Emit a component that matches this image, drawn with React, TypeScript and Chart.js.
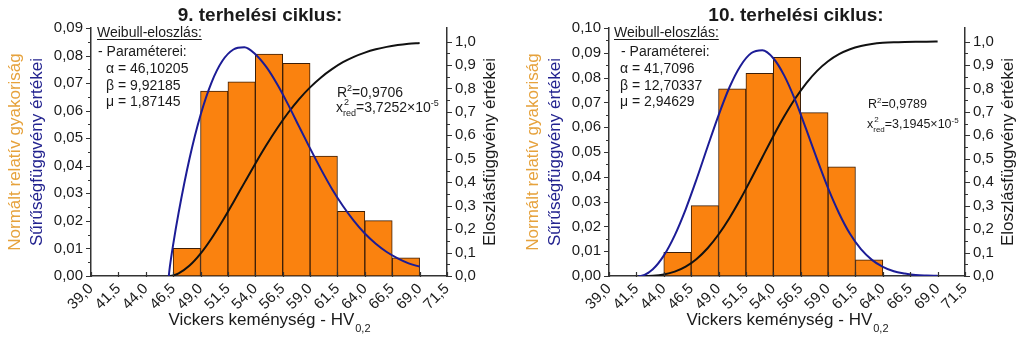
import React, { useEffect, useRef } from 'react';
import { Chart, registerables } from 'chart.js';

Chart.register(...registerables);

const FONT = '"Liberation Sans", Arial, sans-serif';

// ---------- shared axis tick values ----------
const xTickValues = [39.0, 41.5, 44.0, 46.5, 49.0, 51.5, 54.0, 56.5, 59.0, 61.5, 64.0, 66.5, 69.0, 71.5];
const rightTickValues = [0, 0.1, 0.2, 0.3, 0.4, 0.5, 0.6, 0.7, 0.8, 0.9, 1.0];
const leftTicks9 = [0, 0.01, 0.02, 0.03, 0.04, 0.05, 0.06, 0.07, 0.08, 0.09];
const leftTicks10 = [0, 0.01, 0.02, 0.03, 0.04, 0.05, 0.06, 0.07, 0.08, 0.09, 0.1];

// ---------- 9. terhelési ciklus ----------
const binStart9 = [46.5, 49.0, 51.5, 54.0, 56.5, 59.0, 61.5, 64.0, 66.5];
const freq9 = [0.0100, 0.0671, 0.0705, 0.0805, 0.0772, 0.0435, 0.0235, 0.0201, 0.0066];
const curveX9 = [46.1, 46.2, 46.5, 47, 48, 49, 50, 51, 52, 53, 54, 55, 56, 57, 58, 59, 60, 61, 62, 63, 64, 65, 66, 67, 68, 69];
const pdf9 = [0, 0.0034, 0.0114, 0.0230, 0.0427, 0.0584, 0.0702, 0.0781, 0.0822, 0.0830, 0.0805, 0.0759, 0.0696, 0.0622, 0.0542, 0.0463, 0.0387, 0.0316, 0.0254, 0.0200, 0.0154, 0.0117, 0.0087, 0.0064, 0.0046, 0.0034];
const cdf9 = [0, 0.0002, 0.0024, 0.0111, 0.0443, 0.0951, 0.1597, 0.2342, 0.3146, 0.3973, 0.4793, 0.5576, 0.6305, 0.6964, 0.7546, 0.8048, 0.8472, 0.8823, 0.9120, 0.9350, 0.9530, 0.9670, 0.9775, 0.9850, 0.9905, 0.9945];
const params9 = ['α = 46,10205', 'β = 9,92185', 'μ = 1,87145'];
const r2Text9 = '=0,9706';
const chiText9 = '=3,7252×10';

// ---------- 10. terhelési ciklus ----------
const binStart10 = [44.0, 46.5, 49.0, 51.5, 54.0, 56.5, 59.0, 61.5];
const freq10 = [0.0095, 0.0284, 0.0755, 0.0817, 0.0882, 0.0659, 0.0440, 0.0065];
const curveX10 = [41.7, 42, 43, 44, 45, 46, 47, 48, 49, 50, 51, 52, 53, 54, 55, 56, 57, 58, 59, 60, 61, 62, 63, 64, 65, 66, 67, 68, 69];
const pdf10 = [0, 0.0001, 0.0027, 0.0082, 0.0164, 0.0269, 0.0391, 0.0521, 0.0648, 0.0761, 0.0847, 0.0899, 0.0910, 0.0878, 0.0808, 0.0709, 0.0592, 0.0470, 0.0354, 0.0253, 0.0170, 0.0108, 0.0065, 0.0037, 0.0019, 0.0010, 0.0004, 0.0002, 0.0001];
const cdf10 = [0, 0, 0.0012, 0.0064, 0.0185, 0.0400, 0.0729, 0.1185, 0.1770, 0.2476, 0.3282, 0.4159, 0.5066, 0.5964, 0.6810, 0.7570, 0.8221, 0.8752, 0.9163, 0.9464, 0.9674, 0.9812, 0.9897, 0.9947, 0.9974, 0.9988, 0.9995, 0.9998, 0.9999];
const params10 = ['α = 41,7096', 'β = 12,70337', 'μ = 2,94629'];
const r2Text10 = '=0,9789';
const chiText10 = '=3,1945×10';

// ---------- styling ----------
const BAR_FILL = '#fa820f';
const BAR_BORDER = '#3b1e08';
const PDF_COLOR = '#1c1c96';
const CDF_COLOR = '#111111';
const AXIS_COLOR = '#333333';
const TEXT_COLOR = '#1a1a1a';
const ORANGE_TEXT = '#e6a23c';
const BLUE_TEXT = '#23238f';

type Panel = {
  title: string;
  canvasLeft: number;
  canvasWidth: number;
  yWidth: number;
  y2Width: number;
  titleX: number;
  binStart: number[];
  freq: number[];
  curveX: number[];
  pdf: number[];
  cdf: number[];
  leftTicks: number[];
  leftMax: number;
  params: string[];
  r2: string;
  chi: string;
  weibullX: number;
  paramX: number;
  greekX: number;
  r2X: number;
  r2Y: number;
  chiY: number;
  r2Font: number;
};

const panels: Panel[] = [
  {
    title: '9. terhelési ciklus:', canvasLeft: 0, canvasWidth: 512, yWidth: 91, y2Width: 65, titleX: 260,
    binStart: binStart9, freq: freq9, curveX: curveX9, pdf: pdf9, cdf: cdf9,
    leftTicks: leftTicks9, leftMax: 0.09, params: params9, r2: r2Text9, chi: chiText9,
    weibullX: 97, paramX: 98, greekX: 106, r2X: 337, r2Y: 97, chiY: 112, r2Font: 14,
  },
  {
    title: '10. terhelési ciklus:', canvasLeft: 512, canvasWidth: 512, yWidth: 97, y2Width: 59, titleX: 284,
    binStart: binStart10, freq: freq10, curveX: curveX10, pdf: pdf10, cdf: cdf10,
    leftTicks: leftTicks10, leftMax: 0.10, params: params10, r2: r2Text10, chi: chiText10,
    weibullX: 102, paramX: 109, greekX: 108, r2X: 356, r2Y: 108, chiY: 128, r2Font: 12.5,
  },
];

const comma = (v: number, d: number) => v.toFixed(d).replace('.', ',');

function overlayPlugin(p: Panel) {
  return {
    id: 'overlay',
    afterDraw(chart: any) {
      const ctx: CanvasRenderingContext2D = chart.ctx;
      const { left, right, top, bottom } = chart.chartArea;
      const ys = chart.scales.y;
      const y2s = chart.scales.y2;
      const xs = chart.scales.x;
      ctx.save();

      // tick marks
      ctx.strokeStyle = AXIS_COLOR;
      ctx.lineWidth = 1.2;
      ctx.beginPath();
      const lt = p.leftTicks;
      lt.forEach((v, i) => {
        const py = Math.round(ys.getPixelForValue(v)) + 0.5;
        ctx.moveTo(left - 5, py);
        ctx.lineTo(left, py);
        if (i < lt.length - 1) {
          const my = Math.round(ys.getPixelForValue((v + lt[i + 1]) / 2)) + 0.5;
          ctx.moveTo(left - 3, my);
          ctx.lineTo(left, my);
        }
      });
      rightTickValues.forEach((v, i) => {
        const py = Math.round(y2s.getPixelForValue(v)) + 0.5;
        ctx.moveTo(right, py);
        ctx.lineTo(right + 5, py);
        if (i < rightTickValues.length - 1) {
          const my = Math.round(y2s.getPixelForValue((v + rightTickValues[i + 1]) / 2)) + 0.5;
          ctx.moveTo(right, my);
          ctx.lineTo(right + 3, my);
        }
      });
      xTickValues.forEach((v) => {
        const px = Math.round(xs.getPixelForValue(v)) + 0.5;
        ctx.moveTo(px, bottom - 4);
        ctx.lineTo(px, bottom + 1);
      });
      ctx.stroke();

      ctx.fillStyle = TEXT_COLOR;
      ctx.textBaseline = 'alphabetic';

      // title
      ctx.font = `bold 19px ${FONT}`;
      ctx.textAlign = 'center';
      ctx.fillText(p.title, p.titleX, 21);

      // y axis titles
      const cy = (top + bottom) / 2;
      ctx.font = `17px ${FONT}`;
      ctx.textBaseline = 'middle';
      const rot = (x: number, text: string, color: string) => {
        ctx.save();
        ctx.translate(x, cy);
        ctx.rotate(-Math.PI / 2);
        ctx.fillStyle = color;
        ctx.textAlign = 'center';
        ctx.fillText(text, 0, 0);
        ctx.restore();
      };
      rot(left - 76, 'Normált relatív gyakoriság', ORANGE_TEXT);
      rot(left - 54, 'Sűrűségfüggvény értékei', BLUE_TEXT);
      rot(right + 43, 'Eloszlásfüggvény értékei', TEXT_COLOR);

      // x axis title with subscript
      ctx.textBaseline = 'alphabetic';
      ctx.textAlign = 'left';
      const main = 'Vickers keménység - HV';
      const sub = '0,2';
      ctx.font = `17px ${FONT}`;
      const wMain = ctx.measureText(main).width;
      ctx.font = `11px ${FONT}`;
      const wSub = ctx.measureText(sub).width;
      const sx = (left + right) / 2 - (wMain + wSub) / 2;
      ctx.font = `17px ${FONT}`;
      ctx.fillText(main, sx, 325);
      ctx.font = `11px ${FONT}`;
      ctx.fillText(sub, sx + wMain + 1, 332);

      // Weibull annotation
      ctx.font = `14px ${FONT}`;
      const head = 'Weibull-eloszlás:';
      ctx.fillText(head, p.weibullX, 37);
      const hw = ctx.measureText(head).width;
      ctx.beginPath();
      ctx.strokeStyle = TEXT_COLOR;
      ctx.lineWidth = 1;
      ctx.moveTo(p.weibullX, 39.5);
      ctx.lineTo(p.weibullX + hw, 39.5);
      ctx.stroke();
      ctx.fillText('- Paraméterei:', p.paramX, 56);
      const pY = [73, 89.5, 106];
      p.params.forEach((s, i) => ctx.fillText(s, p.greekX, pY[i]));

      // R^2
      const f = p.r2Font;
      const sf = Math.round(f * 0.65);
      let cx = p.r2X;
      ctx.font = `${f}px ${FONT}`;
      ctx.fillText('R', cx, p.r2Y);
      cx += ctx.measureText('R').width;
      ctx.font = `${sf}px ${FONT}`;
      ctx.fillText('2', cx, p.r2Y - f * 0.43);
      cx += ctx.measureText('2').width;
      ctx.font = `${f}px ${FONT}`;
      ctx.fillText(p.r2, cx, p.r2Y);

      // chi^2_red
      cx = p.r2X - 1;
      ctx.fillText('x', cx, p.chiY);
      cx += ctx.measureText('x').width;
      ctx.font = `${sf}px ${FONT}`;
      ctx.fillText('2', cx + 1, p.chiY - f * 0.5);
      ctx.fillText('red', cx, p.chiY + f * 0.3);
      cx += ctx.measureText('red').width;
      ctx.font = `${f}px ${FONT}`;
      ctx.fillText(p.chi, cx, p.chiY);
      cx += ctx.measureText(p.chi).width;
      ctx.font = `${sf}px ${FONT}`;
      ctx.fillText('-5', cx, p.chiY - f * 0.43);

      ctx.restore();
    },
  };
}

function ChartPanel({ p }: { p: Panel }) {
  const ref = useRef<HTMLCanvasElement | null>(null);
  useEffect(() => {
    if (!ref.current) return;
    const binWidth = p.binStart[1] - p.binStart[0];
    const tickFont = { family: FONT, size: 15 };
    const chart = new Chart(ref.current, {
      type: 'bar',
      data: {
        datasets: [
          {
            type: 'line',
            data: p.curveX.map((x, i) => ({ x, y: p.pdf[i] })),
            borderColor: PDF_COLOR,
            borderWidth: 2,
            pointRadius: 0,
            fill: false,
            cubicInterpolationMode: 'monotone',
            yAxisID: 'y',
            order: 1,
          } as any,
          {
            type: 'line',
            data: p.curveX.map((x, i) => ({ x, y: p.cdf[i] })),
            borderColor: CDF_COLOR,
            borderWidth: 2,
            pointRadius: 0,
            fill: false,
            cubicInterpolationMode: 'monotone',
            yAxisID: 'y2',
            order: 2,
          } as any,
          {
            type: 'bar',
            data: p.binStart.map((s, i) => ({ x: s + binWidth / 2, y: p.freq[i] })),
            backgroundColor: BAR_FILL,
            borderColor: BAR_BORDER,
            borderWidth: 1,
            borderSkipped: false,
            barPercentage: 1,
            categoryPercentage: 1,
            yAxisID: 'y',
            order: 3,
          } as any,
        ],
      },
      options: {
        responsive: false,
        animation: false,
        layout: { padding: { top: 28, left: 0, right: 0, bottom: 0 } },
        plugins: {
          legend: { display: false },
          title: { display: false },
          tooltip: { enabled: false },
        },
        scales: {
          x: {
            type: 'linear',
            min: 39,
            max: 71.5,
            offset: false,
            grid: { display: false, drawTicks: false },
            border: { display: true, color: AXIS_COLOR, width: 1.5 },
            afterBuildTicks: (s: any) => {
              s.ticks = xTickValues.map((v) => ({ value: v }));
            },
            afterFit: (s: any) => {
              s.height = 340 - 276;
            },
            ticks: {
              autoSkip: false,
              minRotation: 45,
              maxRotation: 45,
              padding: 4,
              font: tickFont,
              color: TEXT_COLOR,
              callback: (v: any) => comma(Number(v), 1),
            },
          },
          y: {
            type: 'linear',
            position: 'left',
            min: 0,
            max: p.leftMax,
            grid: { display: false, drawTicks: false },
            border: { display: true, color: AXIS_COLOR, width: 1.5 },
            afterBuildTicks: (s: any) => {
              s.ticks = p.leftTicks.map((v) => ({ value: v }));
            },
            afterFit: (s: any) => {
              s.width = p.yWidth;
            },
            ticks: {
              padding: 8,
              font: tickFont,
              color: TEXT_COLOR,
              callback: (v: any) => comma(Number(v), 2),
            },
          },
          y2: {
            type: 'linear',
            position: 'right',
            min: 0,
            max: 1.058,
            grid: { display: false, drawTicks: false },
            border: { display: true, color: AXIS_COLOR, width: 1.5 },
            afterBuildTicks: (s: any) => {
              s.ticks = rightTickValues.map((v) => ({ value: v }));
            },
            afterFit: (s: any) => {
              s.width = p.y2Width;
            },
            ticks: {
              padding: 8,
              font: tickFont,
              color: TEXT_COLOR,
              callback: (v: any) => comma(Number(v), 1),
            },
          },
        },
      } as any,
      plugins: [overlayPlugin(p)],
    });
    return () => chart.destroy();
  }, [p]);
  return (
    <canvas
      ref={ref}
      width={p.canvasWidth}
      height={340}
      style={{ position: 'absolute', left: p.canvasLeft, top: 0, width: p.canvasWidth, height: 340 }}
    />
  );
}

export default function App() {
  return (
    <div
      style={{
        position: 'absolute',
        left: 0,
        top: 0,
        width: 1024,
        height: 340,
        overflow: 'hidden',
        background: '#ffffff',
      }}
    >
      {panels.map((p) => (
        <ChartPanel key={p.title} p={p} />
      ))}
    </div>
  );
}
